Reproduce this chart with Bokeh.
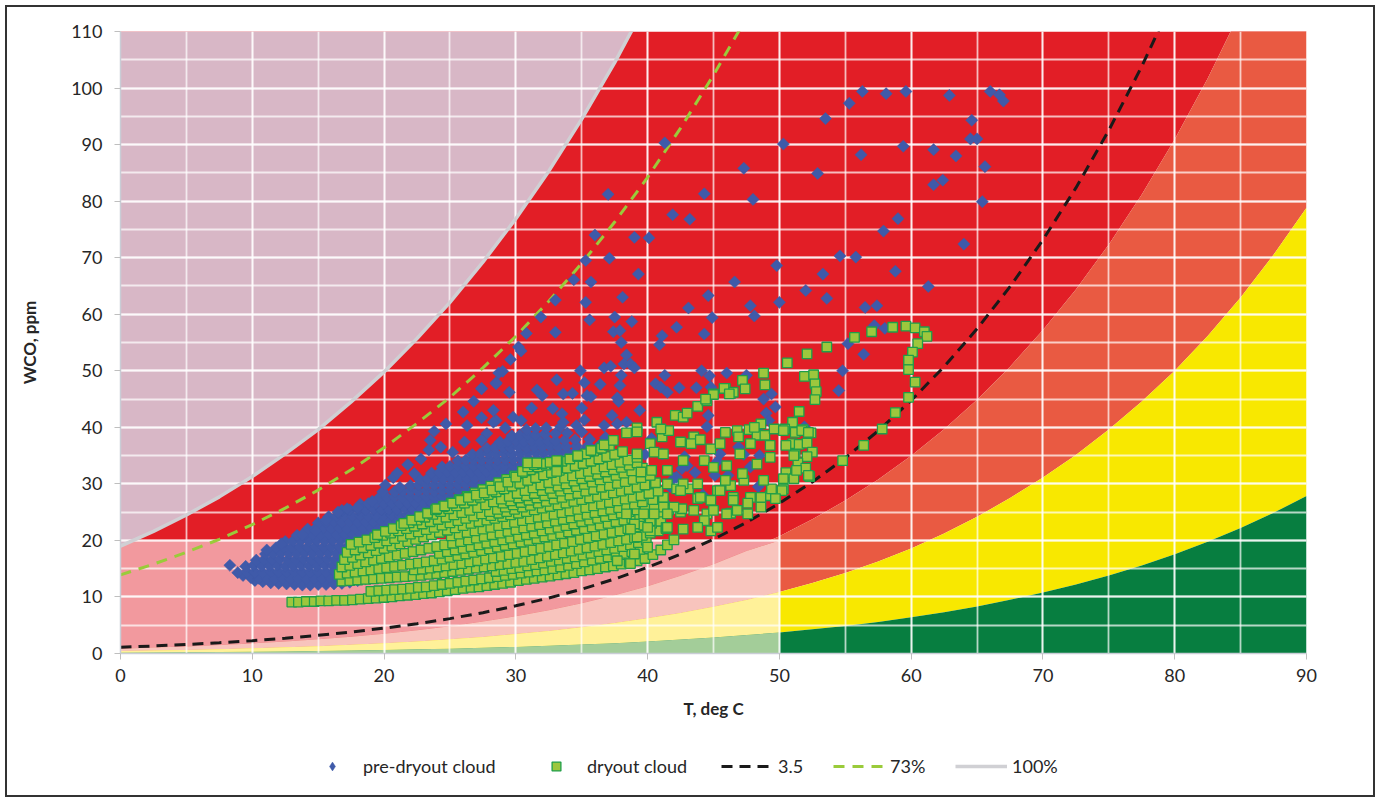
from bokeh.plotting import figure
from bokeh.layouts import column
from bokeh.models import Range1d, SingleIntervalTicker, Legend, LegendItem
from bokeh.embed import file_html
from bokeh.resources import INLINE

# ---------------------------------------------------------------- curves
# temperature grid (deg C) used by every boundary curve
temp_grid = [0, 2.5, 5, 7.5, 10, 12.5, 15, 17.5, 20, 22.5, 25, 27.5, 30, 32.5, 35,
             37.5, 40, 42.5, 45, 47.5, 50, 52.5, 55, 57.5, 60, 62.5, 65, 67.5, 70,
             72.5, 75, 77.5, 80, 82.5, 85, 87.5, 90]

# lower edge of the red zone (ppm)
red_zone_floor = [0.86, 1.04, 1.24, 1.49, 1.78, 2.12, 2.51, 2.97, 3.50, 4.12, 4.83, 5.65,
                  6.59, 7.67, 8.90, 10.31, 11.91, 13.73, 15.79, 18.12, 20.75, 23.72,
                  27.05, 30.79, 34.98, 39.66, 44.89, 50.72, 57.19, 64.38, 72.35, 81.18,
                  90.93, 101.7, 113.6, 126.6, 140.9]
# lower edge of the orange zone (ppm)
orange_zone_floor = [0.44, 0.53, 0.64, 0.77, 0.92, 1.09, 1.30, 1.54, 1.82, 2.14, 2.51,
                     2.94, 3.43, 3.99, 4.65, 5.38, 6.22, 7.18, 8.26, 9.48, 10.86, 12.47,
                     14.25, 16.29, 18.59, 21.22, 24.17, 27.48, 31.12, 35.11, 39.62, 44.55,
                     50.01, 56.17, 62.98, 70.52, 78.83]
# lower edge of the yellow zone (ppm)
yellow_zone_floor = [0.15, 0.18, 0.22, 0.26, 0.31, 0.37, 0.44, 0.53, 0.62, 0.73, 0.86,
                     1.01, 1.17, 1.36, 1.58, 1.83, 2.13, 2.46, 2.83, 3.25, 3.72, 4.28,
                     4.88, 5.59, 6.39, 7.29, 8.30, 9.50, 10.77, 12.20, 13.80, 15.57,
                     17.55, 19.75, 22.18, 24.88, 27.86]

# water solubility in oil, 100 % and 73 % relative saturation (ppm)
saturation_100 = [19.0, 21.6, 24.5, 27.7, 31.3, 35.3, 39.6, 44.5, 49.8, 55.7, 62.1,
                  69.2, 76.9, 85.3, 94.5, 104.5, 115.4]
saturation_73 = [13.9, 15.8, 17.9, 20.2, 22.8, 25.7, 28.9, 32.5, 36.4, 40.7, 45.3, 50.5,
                 56.1, 62.3, 69.0, 76.3, 84.2, 92.9, 102.3, 112.4]
# equilibrium curve labelled 3.5 (ppm)
curve_3_5 = [1.10, 1.33, 1.59, 1.91, 2.27, 2.71, 3.21, 3.80, 4.48, 5.27, 6.17, 7.22,
             8.43, 9.81, 11.38, 13.18, 15.23, 17.56, 20.20, 23.18, 26.55, 30.34, 34.59,
             39.38, 44.74, 50.73, 57.42, 64.87, 73.16, 82.34, 92.54, 103.83, 116.3]

# pastel window in the lower-left corner
pastel_t_max = 50
pastel_w_max = 20

# ---------------------------------------------------------------- clouds (T, WCO)
pre_dryout_core = [
    (10.2,12.9),(10.8,12.7),(11.4,12.5),(12.0,12.4),(12.6,12.3),(13.2,12.2),(13.8,12.1),(14.4,12.1),(15.0,12.2),(15.6,12.2),(16.2,12.3),(16.8,12.4),(17.4,12.6),(18.0,12.9),(18.6,13.2),
    (9.3,13.8),(9.9,13.4),(10.5,13.3),(11.1,13.3),(11.7,13.2),(12.3,13.3),(12.9,13.2),(13.5,13.3),(14.1,13.2),(14.7,13.3),(15.3,13.3),(15.9,13.4),(16.5,13.3),(17.1,13.5),(17.7,13.6),(18.3,13.8),(18.9,14.0),
    (8.9,14.3),(9.6,14.4),(10.2,14.4),(10.8,14.3),(11.4,14.5),(12.0,14.4),(12.6,14.4),(13.2,14.5),(13.8,14.4),(14.4,14.4),(15.0,14.5),(15.6,14.4),(16.2,14.5),(16.8,14.5),(17.4,14.6),(18.0,14.7),(18.6,14.8),
    (9.5,15.4),(10.1,15.6),(10.7,15.5),(11.3,15.5),(11.9,15.6),(12.5,15.4),(13.1,15.5),(13.7,15.6),(14.3,15.5),(14.9,15.5),(15.5,15.6),(16.1,15.5),(16.7,15.6),(17.3,15.6),(17.9,15.7),(18.5,15.8),
    (10.3,16.5),(10.9,16.6),(11.5,16.6),(12.1,16.7),(12.7,16.6),(13.3,16.6),(13.9,16.7),(14.5,16.6),(15.1,16.7),(15.7,16.7),(16.3,16.6),(16.9,16.7),(17.5,16.8),(18.1,16.8),(18.7,16.9),
    (11.0,17.6),(11.6,17.7),(12.2,17.8),(12.8,17.7),(13.4,17.7),(14.0,17.8),(14.6,17.7),(15.2,17.8),(15.8,17.8),(16.4,17.7),(17.0,17.8),(17.6,17.9),(18.2,17.9),(18.8,18.0),(19.4,18.1),
    (11.8,18.7),(12.4,18.8),(13.0,18.8),(13.6,18.9),(14.2,18.8),(14.8,18.9),(15.4,18.8),(16.0,18.9),(16.6,18.9),(17.2,18.9),(17.8,19.0),(18.4,19.0),(19.0,19.1),(19.6,19.1),(20.2,19.2),
    (12.5,19.8),(13.1,19.9),(13.7,20.0),(14.3,19.9),(14.9,20.0),(15.5,19.9),(16.1,20.0),(16.7,20.0),(17.3,20.1),(17.9,20.0),(18.5,20.1),(19.1,20.1),(19.7,20.2),(20.3,20.2),(20.9,20.3),
    (13.4,20.9),(14.0,21.0),(14.6,21.1),(15.2,21.0),(15.8,21.1),(16.4,21.0),(17.0,21.1),(17.6,21.1),(18.2,21.2),(18.8,21.1),(19.4,21.2),(20.0,21.2),(20.6,21.3),(21.2,21.3),(21.8,21.4),
    (14.2,22.0),(14.8,22.1),(15.4,22.2),(16.0,22.1),(16.6,22.2),(17.2,22.1),(17.8,22.2),(18.4,22.2),(19.0,22.3),(19.6,22.2),(20.2,22.3),(20.8,22.3),(21.4,22.4),(22.0,22.4),(22.6,22.5),(23.2,22.6),
    (15.0,23.1),(15.6,23.2),(16.2,23.3),(16.8,23.2),(17.4,23.3),(18.0,23.2),(18.6,23.3),(19.2,23.3),(19.8,23.4),(20.4,23.3),(21.0,23.4),(21.6,23.4),(22.2,23.5),(22.8,23.5),(23.4,23.6),(24.0,23.7),
    (15.8,24.2),(16.4,24.3),(17.0,24.4),(17.6,24.3),(18.2,24.4),(18.8,24.3),(19.4,24.4),(20.0,24.4),(20.6,24.5),(21.2,24.4),(21.8,24.5),(22.4,24.5),(23.0,24.6),(23.6,24.6),(24.2,24.7),(24.8,24.8),
    (16.8,25.3),(17.4,25.4),(18.0,25.5),(18.6,25.4),(19.2,25.5),(19.8,25.4),(20.4,25.5),(21.0,25.5),(21.6,25.6),(22.2,25.5),(22.8,25.6),(23.4,25.6),(24.0,25.7),(24.6,25.7),(25.2,25.8),(25.8,25.8),(26.4,25.9),
    (18.2,26.4),(18.8,26.5),(19.4,26.6),(20.0,26.5),(20.6,26.6),(21.2,26.5),(21.8,26.6),(22.4,26.6),(23.0,26.7),(23.6,26.6),(24.2,26.7),(24.8,26.7),(25.4,26.8),(26.0,26.8),(26.6,26.9),(27.2,27.0),
    (19.6,27.5),(20.2,27.6),(20.8,27.7),(21.4,27.6),(22.0,27.7),(22.6,27.6),(23.2,27.7),(23.8,27.7),(24.4,27.8),(25.0,27.7),(25.6,27.8),(26.2,27.8),(26.8,27.9),(27.4,27.9),(28.0,28.0),
    (20.8,28.6),(21.4,28.7),(22.0,28.8),(22.6,28.7),(23.2,28.8),(23.8,28.7),(24.4,28.8),(25.0,28.8),(25.6,28.9),(26.2,28.8),(26.8,28.9),(27.4,28.9),(28.0,29.0),(28.6,29.0),(29.2,29.1),
    (22.0,29.7),(22.6,29.8),(23.2,29.9),(23.8,29.8),(24.4,29.9),(25.0,29.8),(25.6,29.9),(26.2,29.9),(26.8,30.0),(27.4,29.9),(28.0,30.0),(28.6,30.0),(29.2,30.1),(29.8,30.1),(30.4,30.2),
    (22.7,30.8),(23.3,30.9),(23.9,31.0),(24.5,30.9),(25.1,31.0),(25.7,30.9),(26.3,31.0),(26.9,31.0),(27.5,31.1),(28.1,31.0),(28.7,31.1),(29.3,31.1),(29.9,31.2),(30.5,31.2),(31.1,31.3),
    (23.6,31.9),(24.2,32.0),(24.8,32.1),(25.4,32.0),(26.0,32.1),(26.6,32.0),(27.2,32.1),(27.8,32.1),(28.4,32.2),(29.0,32.1),(29.6,32.2),(30.2,32.2),(30.8,32.3),(31.4,32.3),(32.0,32.4),(32.6,32.4),
    (24.4,33.0),(25.0,33.1),(25.6,33.2),(26.2,33.1),(26.8,33.2),(27.4,33.1),(28.0,33.2),(28.6,33.2),(29.2,33.3),(29.8,33.2),(30.4,33.3),(31.0,33.3),(31.6,33.4),(32.2,33.4),(32.8,33.5),(33.4,33.5),
    (25.6,34.1),(26.2,34.2),(26.8,34.3),(27.4,34.2),(28.0,34.3),(28.6,34.2),(29.2,34.3),(29.8,34.3),(30.4,34.4),(31.0,34.3),(31.6,34.4),(32.2,34.4),(32.8,34.5),(33.4,34.5),(34.0,34.6),(34.6,34.6),
    (26.7,35.2),(27.3,35.3),(27.9,35.4),(28.5,35.3),(29.1,35.4),(29.7,35.3),(30.3,35.4),(30.9,35.4),(31.5,35.5),(32.1,35.4),(32.7,35.5),(33.3,35.5),(33.9,35.6),(34.5,35.6),(35.1,35.7),(35.9,35.8),
    (27.8,36.3),(28.4,36.4),(29.0,36.5),(29.6,36.4),(30.2,36.5),(30.8,36.4),(31.4,36.5),(32.0,36.5),(32.6,36.6),(33.2,36.5),(33.8,36.6),(34.6,36.7),(35.5,36.8),(36.4,36.9),(37.2,37.1),
    (28.8,37.4),(29.4,37.5),(30.0,37.6),(30.6,37.5),(31.2,37.6),(31.8,37.5),(32.4,37.6),(33.0,37.6),(33.7,37.7),(34.5,37.8),(35.6,37.9),(36.8,38.2),
    (29.7,38.5),(30.3,38.6),(30.9,38.7),(31.5,38.6),(32.2,38.8),(33.0,38.9),(33.9,39.0),(35.0,39.2),
    (30.8,39.6),(31.5,39.8),(32.3,39.9),(33.4,40.1),(34.6,40.3),
]

pre_dryout_scattered = [
    (8.3,15.6),(11.1,18.3),(12.2,19.4),(13.8,21.0),(14.8,21.7),(15.6,23.6),(16.5,25.0),(17.2,25.6),
    (18.0,25.8),(19.1,26.9),(19.9,28.6),(20.1,29.8),(20.7,31.1),(21.2,29.4),(21.0,31.9),(21.8,33.4),
    (22.3,31.8),(22.8,34.4),(23.4,36.0),(23.5,37.7),(24.3,36.5),(23.8,39.3),(24.7,40.6),(25.2,35.6),
    (26.1,37.4),(26.0,42.7),(26.3,40.3),(26.8,44.6),(27.4,46.8),(27.4,41.7),(27.8,38.9),(27.4,37.7),
    (28.5,47.9),(28.7,49.6),(28.5,41.2),(28.3,43.0),(29.2,39.9),(30.4,41.2),
    (28.5,17.5),(30.2,19.0),(31.5,21.5),(32.8,18.6),(33.6,23.4),(34.5,20.2),(35.3,25.8),(35.9,22.5),
    (36.6,19.1),(37.2,27.0),(37.8,24.3),(38.3,21.0),(39.0,29.0),(39.6,26.2),(40.1,23.0),(40.8,28.3),
    (41.3,26.7),(42.0,31.0),(42.8,34.8),(43.6,32.0),(44.2,28.0),(45.3,34.0),(46.1,31.5),(46.9,36.5),
    (47.8,33.0),(48.4,29.5),(29.5,24.8),(31.0,27.5),(32.3,29.8),(33.9,31.0),(34.9,28.2),(36.2,30.5),
    (38.6,32.6),(39.8,35.2),
    (56.3,99.4),(58.1,99.0),(59.6,99.4),(62.9,98.7),(55.3,97.3),(53.5,94.6),(64.6,94.3),(64.5,91.0),
    (65.0,91.0),(50.3,90.1),(41.3,90.3),(59.4,89.7),(61.7,89.1),(56.2,88.2),(63.4,88.0),(47.3,85.8),
    (52.9,84.9),(62.4,83.7),(61.7,82.9),(37.0,81.2),(44.3,81.3),(48.0,80.3),(41.9,77.6),(43.2,76.8),
    (59.0,76.9),(57.9,74.7),(64.0,72.4),(36.0,74.0),(39.0,73.6),(40.1,73.5),(37.1,69.9),(35.3,69.5),
    (54.6,70.3),(55.8,70.1),(49.8,68.6),(39.3,67.1),(53.3,67.1),(58.8,67.6),(34.4,66.1),(35.7,65.7),
    (46.6,65.7),(61.3,64.9),(44.6,63.3),(38.1,63.0),(52.0,64.2),(53.6,62.8),(33.0,62.5),(35.3,62.1),
    (43.1,61.1),(47.8,61.5),(50.0,62.1),(56.5,61.2),(57.4,61.5),(31.9,59.5),(35.6,59.0),(37.5,59.5),
    (38.8,58.7),(44.9,59.4),(48.1,59.7),(33.0,56.8),(30.8,56.6),(37.4,56.9),(37.9,57.1),(42.2,57.7),
    (44.3,56.5),(41.1,56.2),(30.2,54.2),(30.4,53.5),(40.9,54.6),(55.2,54.8),(56.4,52.9),(29.6,52.0),
    (38.0,55.0),(38.4,52.8),(38.2,51.2),(38.7,51.2),(39.0,50.5),(36.7,50.5),(37.2,50.8),(38.0,49.2),
    (37.9,47.4),(34.9,50.0),(29.0,49.9),(33.1,48.4),(35.2,47.9),(36.4,47.6),(41.3,49.2),(40.6,47.7),
    (41.0,47.1),(41.5,46.2),(44.1,50.0),(44.7,49.1),(46.0,49.6),(47.5,49.2),(42.4,47.0),(43.7,47.0),
    (44.8,47.1),(54.8,50.0),(54.5,46.5),(49.4,45.9),(31.6,46.6),(32.0,45.6),(29.5,46.2),(33.6,45.9),
    (34.3,46.0),(35.4,45.6),(35.7,45.4),(37.7,45.2),(66.0,99.4),(66.7,98.8),(67.0,97.7),(65.6,86.1),
    (65.4,79.9),(57.2,58.0),(58.0,57.5),(27.4,46.9),(28.5,47.7),(37.8,44.6),(39.4,43.0),(31.2,43.4),
    (32.8,43.3),(35.0,43.4),(33.5,42.4),(37.3,42.1),(44.6,42.1),(36.7,40.3),(37.7,40.6),(38.4,40.9),
    (33.6,40.9),(29.8,41.8),(28.3,40.9),(35.2,41.3),(48.8,45.0),(49.0,42.5),(49.7,43.6),(49.2,41.2),
    (51.9,40.1),(48.3,39.7),(44.5,40.1),(45.5,35.3),(47.3,35.2),(48.5,35.0),(41.1,35.3),(40.3,38.0),
    (43.0,33.2),(42.6,32.7),(42.2,31.2),(41.7,29.5),(42.2,28.9),(45.1,31.5),(40.2,30.6),
]

dryout_streaks = [
    (13.0,9.1),(13.5,9.1),(14.1,9.2),(14.7,9.2),(15.2,9.3),(15.8,9.3),(16.4,9.4),(17.0,9.4),(17.6,9.5),(18.2,9.6),(18.8,9.7),(19.4,9.8),(20.0,9.9),(20.6,10.0),(21.2,10.2),(21.8,10.3),(22.4,10.4),(23.0,10.6),(23.6,10.7),(24.2,10.9),(24.8,11.1),(25.4,11.3),(26.0,11.5),(26.6,11.7),(27.2,11.8),(27.8,12.0),(28.4,12.2),(29.0,12.4),(29.6,12.6),(30.2,12.9),(30.8,13.1),(31.4,13.3),(32.0,13.5),(32.6,13.7),(33.2,13.9),(33.8,14.1),(34.4,14.3),(35.0,14.6),(35.6,14.8),(36.2,15.0),(36.8,15.3),(37.4,15.5),(38.0,15.8),(38.6,16.1),(39.2,16.4),(39.8,16.8),(40.4,17.5),(41.0,18.3),(41.5,19.2),(42.0,20.1),
    (19.0,11.0),(19.6,11.1),(20.2,11.2),(20.8,11.3),(21.4,11.4),(22.0,11.5),(22.6,11.7),(23.2,11.8),(23.8,12.0),(24.4,12.2),(25.0,12.4),(25.6,12.6),(26.2,12.8),(26.8,13.0),(27.4,13.2),(28.0,13.4),(28.6,13.6),(29.2,13.8),(29.8,14.0),(30.4,14.2),(31.0,14.4),(31.6,14.6),(32.2,14.8),(32.8,15.0),(33.4,15.3),(34.0,15.6),(34.6,15.9),(35.2,16.2),(35.8,16.5),(36.4,16.8),(37.0,17.1),(37.6,17.4),(38.2,17.7),(38.8,18.0),(39.4,18.4),(40.0,18.8),
    (28.5,14.5),(29.1,14.7),(29.7,15.0),(30.3,15.2),(30.9,15.5),(31.5,15.7),(32.1,16.0),(32.7,16.3),(33.3,16.5),(33.9,16.8),(34.5,17.1),(35.1,17.4),(35.7,17.7),(36.3,18.0),(36.9,18.3),(37.5,18.6),(38.1,18.9),(38.7,19.2),(39.3,19.6),(39.9,20.0),
    (16.8,12.8),(17.4,12.9),(18.0,13.0),(18.6,13.1),(19.2,13.2),(19.8,13.3),(20.4,13.4),(21.0,13.5),(21.6,13.6),(22.2,13.7),(22.8,13.8),(23.4,14.0),(24.0,14.1),(24.6,14.3),(25.2,14.5),(25.8,14.7),(26.4,14.9),(27.0,15.1),(27.6,15.3),(28.2,15.5),(28.8,15.7),(29.4,15.9),(30.0,16.1),(30.6,16.3),(31.2,16.6),(31.8,16.9),(32.4,17.2),(33.0,17.5),(33.6,17.8),(34.2,18.1),(34.8,18.4),(35.4,18.7),(36.0,19.0),(36.6,19.3),(37.2,19.6),(37.8,19.9),(38.4,20.2),(39.0,20.5),(39.6,20.9),(40.2,21.3),(40.8,21.7),(41.4,22.1),
    (22.3,14.8),(22.9,14.9),(23.5,15.1),(24.1,15.3),(24.7,15.5),(25.3,15.7),(25.9,15.9),(26.5,16.2),(27.1,16.4),(27.7,16.7),(28.3,16.9),(28.9,17.2),(29.5,17.5),(30.1,17.7),(30.7,18.0),(31.3,18.3),(31.9,18.6),(32.5,18.9),(33.1,19.2),(33.7,19.5),(34.3,19.8),(34.9,20.2),(35.5,20.5),(36.1,20.8),(36.7,21.1),(37.3,21.4),(37.9,21.7),(38.5,22.1),(39.1,22.4),(39.7,22.7),(40.3,23.0),(41.0,23.4),
    (16.6,14.0),(17.2,14.2),(17.8,14.4),(18.4,14.6),(19.0,14.8),(19.6,15.0),(20.2,15.2),(20.8,15.4),(21.4,15.6),(22.0,15.8),(22.6,16.0),(23.2,16.2),(23.8,16.4),(24.4,16.7),(25.0,17.0),(25.6,17.3),(26.2,17.6),(26.8,17.9),(27.4,18.2),(28.0,18.5),(28.6,18.8),(29.2,19.1),(29.8,19.4),(30.4,19.7),(31.0,20.0),(31.6,20.3),(32.2,20.6),(32.8,20.9),(33.4,21.2),(34.0,21.5),(34.6,21.8),(35.2,22.1),(35.8,22.4),(36.4,22.7),(37.0,23.0),(37.6,23.3),(38.2,23.6),(38.8,23.9),(39.4,24.2),(40.0,24.6),(40.8,25.0),(41.6,25.4),
    (24.2,17.7),(24.8,18.0),(25.4,18.3),(26.0,18.6),(26.6,18.9),(27.2,19.2),(27.8,19.5),(28.4,19.8),(29.0,20.1),(29.6,20.4),(30.2,20.7),(30.8,21.0),(31.4,21.3),(32.0,21.7),(32.6,22.0),(33.2,22.3),(33.8,22.6),(34.4,22.9),(35.0,23.3),(35.6,23.6),(36.2,23.9),(36.8,24.2),(37.4,24.5),(38.0,24.8),(38.6,25.1),(39.2,25.4),(39.8,25.7),(40.5,26.0),
    (16.8,15.3),(17.4,15.6),(18.0,15.9),(18.6,16.2),(19.2,16.5),(19.8,16.8),(20.4,17.1),(21.0,17.4),(21.6,17.7),(22.2,18.0),(22.8,18.3),(23.4,18.6),(24.0,18.9),(24.6,19.2),(25.2,19.5),(25.8,19.8),(26.4,20.1),(27.0,20.4),(27.6,20.7),(28.2,21.0),(28.8,21.3),(29.4,21.6),(30.0,21.9),(30.6,22.2),(31.2,22.5),(31.8,22.8),(32.4,23.1),(33.0,23.4),(33.6,23.7),(34.2,24.0),(34.8,24.3),(35.4,24.6),(36.0,24.9),(36.6,25.2),(37.2,25.5),(37.8,25.8),(38.4,26.1),(39.0,26.4),(39.6,26.8),(40.4,27.2),(41.2,27.6),
    (25.1,20.8),(25.7,21.1),(26.3,21.4),(26.9,21.7),(27.5,22.0),(28.1,22.3),(28.7,22.6),(29.3,22.9),(29.9,23.2),(30.5,23.5),(31.1,23.8),(31.7,24.1),(32.3,24.3),(32.9,24.6),(33.5,24.9),(34.1,25.2),(34.7,25.5),(35.3,25.8),(35.9,26.1),(36.5,26.4),(37.1,26.7),(37.7,27.0),(38.3,27.3),(38.9,27.6),(39.5,27.9),(40.1,28.3),(40.8,28.7),
    (17.0,16.6),(17.6,17.0),(18.2,17.4),(18.8,17.8),(19.4,18.2),(20.0,18.6),(20.6,19.0),(21.2,19.4),(21.8,19.8),(22.4,20.2),(23.0,20.6),(23.6,21.0),(24.2,21.4),(24.8,21.8),(25.4,22.2),(26.0,22.6),(26.6,23.0),(27.2,23.3),(27.8,23.6),(28.4,23.9),(29.0,24.2),(29.6,24.5),(30.2,24.8),(30.8,25.1),(31.4,25.4),(32.0,25.7),(32.6,26.0),(33.2,26.3),(33.8,26.6),(34.4,26.9),(35.0,27.2),(35.6,27.5),(36.2,27.8),(36.8,28.1),(37.4,28.4),(38.0,28.7),(38.6,29.0),(39.2,29.4),(39.8,29.8),(40.6,30.2),
    (28.1,24.4),(28.7,24.8),(29.3,25.1),(29.9,25.5),(30.5,25.9),(31.1,26.2),(31.7,26.6),(32.3,26.9),(32.9,27.3),(33.5,27.6),(34.1,28.0),(34.7,28.3),(35.3,28.7),(35.9,29.0),(36.5,29.4),(37.1,29.7),(37.7,30.1),(38.3,30.4),(38.9,30.8),(39.5,31.1),(40.2,31.5),
    (17.2,17.9),(17.8,18.3),(18.4,18.7),(19.0,19.1),(19.6,19.5),(20.2,19.9),(20.8,20.3),(21.4,20.7),(22.0,21.1),(22.6,21.5),(23.2,21.9),(23.8,22.3),(24.4,22.7),(25.0,23.1),(25.6,23.5),(26.2,23.9),(26.8,24.3),(27.4,24.7),(28.0,25.1),(28.6,25.5),(29.2,25.9),(29.8,26.3),(30.4,26.7),(31.0,27.1),(31.6,27.5),(32.2,27.9),(32.8,28.3),(33.4,28.7),(34.0,29.1),(34.6,29.5),(35.2,29.9),(35.8,30.3),(36.4,30.7),(37.0,31.1),(37.6,31.5),(38.2,31.9),(38.8,32.3),(39.6,32.8),
    (29.0,26.6),(29.6,27.0),(30.2,27.5),(30.8,27.9),(31.4,28.3),(32.0,28.8),(32.6,29.2),(33.2,29.6),(33.8,30.0),(34.4,30.5),(35.0,30.9),(35.6,31.3),(36.2,31.7),(36.8,32.1),(37.4,32.5),(38.0,32.9),(38.6,33.3),(39.2,33.7),
    (17.5,19.3),(18.1,19.7),(18.7,20.1),(19.3,20.5),(19.9,20.9),(20.5,21.3),(21.1,21.7),(21.7,22.1),(22.3,22.5),(22.9,22.9),(23.5,23.3),(24.1,23.7),(24.7,24.1),(25.3,24.5),(25.9,24.9),(26.5,25.3),(27.1,25.8),(27.7,26.3),(28.3,26.8),(28.9,27.3),(29.5,27.8),(30.1,28.3),(30.7,28.8),(31.3,29.3),(31.9,29.8),(32.5,30.2),(33.1,30.6),(33.7,31.0),(34.3,31.4),(34.9,31.8),(35.5,32.2),(36.1,32.6),(36.7,33.0),(37.3,33.4),(37.9,33.8),(38.5,34.2),(39.2,34.7),
    (19.5,21.0),(20.1,21.6),(20.7,22.1),(21.3,22.6),(21.9,23.1),(22.5,23.6),(23.1,24.1),(23.7,24.6),(24.3,25.1),(24.9,25.6),(25.5,26.1),(26.1,26.6),(26.7,27.1),(27.3,27.6),(27.9,28.1),(28.5,28.6),(29.1,29.1),(29.7,29.6),(30.3,30.1),(30.9,30.6),(31.5,31.1),(32.1,31.6),(32.7,32.0),(33.3,32.4),(33.9,32.8),(34.5,33.2),(35.1,33.6),(35.7,34.0),(36.3,34.4),(36.9,34.8),(37.5,35.2),(38.1,35.7),
    (21.5,23.0),(22.1,23.6),(22.7,24.2),(23.3,24.8),(23.9,25.4),(24.5,26.0),(25.1,26.6),(25.7,27.2),(26.3,27.8),(26.9,28.4),(27.5,29.0),(28.1,29.6),(28.7,30.2),(29.3,30.8),(29.9,31.4),(30.5,32.0),(31.1,32.5),(31.7,33.0),(32.3,33.3),(32.9,33.6),(33.5,34.0),(34.1,34.4),(34.7,34.8),(35.3,35.3),(35.9,35.8),(36.5,36.3),(37.1,36.8),
    (24.0,25.6),(24.6,26.1),(25.2,26.6),(25.8,27.1),(26.4,27.6),(27.0,28.0),(27.6,28.4),(28.2,28.9),(28.8,29.5),(29.4,30.3),(30.0,31.2),(30.5,32.2),(30.9,33.0),(31.4,33.4),(32.0,33.6),(32.6,33.8),(33.2,34.0),
]

dryout_scattered = [
    (30.9,33.7),(31.6,33.7),(33.1,34.1),(33.1,32.2),(34.7,35.0),(35.7,35.9),(36.7,36.9),(37.4,37.7),
    (38.4,39.0),(39.2,39.9),(40.7,40.9),(42.1,42.1),(42.7,41.8),(43.0,42.5),(43.8,43.7),(44.5,44.7),
    (45.0,45.9),(45.9,46.9),(46.3,46.0),(47.2,48.3),(47.4,46.8),(48.8,49.6),(48.9,47.5),(50.6,51.4),
    (52.1,53.0),(53.6,54.2),(55.7,55.9),(57.0,56.9),(58.6,57.7),(59.6,57.9),(60.3,57.6),(61.0,56.9),
    (61.2,56.1),(60.5,54.8),(60.1,53.3),(59.8,51.9),(59.8,50.2),(60.3,48.0),(59.8,45.3),(58.8,42.6),
    (57.8,39.7),(56.4,36.8),(54.8,34.1),
    (46.5,46.2),(45.8,46.9),(46.2,45.9),(45.0,45.8),(44.4,45.0),(51.9,49.0),(52.6,49.3),(52.7,47.7),
    (52.8,46.3),(52.7,44.9),(51.5,42.8),(51.0,40.9),(50.4,39.7),(51.8,39.6),(52.4,39.0),(51.0,37.1),
    (51.5,37.0),(52.1,37.2),(52.5,35.6),(51.2,35.2),(52.1,34.8),(51.4,33.7),(52.0,32.8),(50.5,32.0),
    (52.3,31.3),(51.1,30.9),(50.3,29.1),
    (39.2,39.2),(40.2,37.1),(41.1,38.3),(41.6,39.4),(41.0,39.7),(39.2,35.3),(40.5,35.6),(41.2,35.3),
    (40.3,32.4),(39.5,32.1),(41.5,30.0),(42.2,29.1),(43.1,29.1),(42.5,37.4),(43.5,38.3),(43.3,37.1),
    (44.0,37.8),(44.8,36.2),(45.5,37.1),(45.9,39.1),(46.8,39.4),(47.7,39.6),(48.3,38.6),(46.9,38.3),
    (47.8,37.1),(48.9,38.6),(49.6,39.7),(50.3,39.4),(51.2,39.1),(51.7,39.4),(52.2,39.1),(48.6,40.6),
    (48.1,40.0),
    (42.7,30.0),(43.8,27.4),(44.5,24.7),(44.8,21.7),(42.7,22.0),(41.4,22.3),(40.2,21.7),(46.3,24.8),
    (46.5,27.6),(47.6,24.7),(48.6,25.9),(49.3,27.9),(50.3,30.9),(51.3,32.4),(52.2,31.5),(51.1,35.0),
    (47.3,30.6),(46.3,29.7),(45.3,28.8),(46.0,33.2),(47.0,35.3),(48.3,33.5),(49.3,34.7),(44.3,34.1),
    (42.7,34.1),(41.5,32.4),(42.5,25.0),(41.2,25.9),(40.2,23.5),(39.0,22.9),(39.2,20.6),(37.7,16.4),
    (49.3,36.8),(50.5,36.8),(50.2,28.8),(49.4,29.1),(48.8,30.6),(49.7,27.4),(48.6,27.6),(47.8,27.6),
    (47.6,26.6),(46.5,27.1),(46.8,25.3),(46.0,24.7),(45.9,30.6),(47.2,31.8),(45.0,32.9),(45.5,28.8),
    (44.8,27.1),(44.0,27.6),(43.8,30.0),(42.5,28.8),(42.6,25.6),(43.5,25.3),(45.0,25.3),(44.3,23.5),
    (45.3,22.3),(43.8,22.3),(41.5,22.3),(42.0,25.9),(41.5,24.7),(40.5,24.7),(39.7,24.7),(40.0,22.3),
    (38.4,24.7),(38.7,22.0),(40.0,18.8),(39.0,17.6),(38.7,15.9),
]

# axis ticks
x_ticks_step = 10
y_ticks_step = 10

# ---------------------------------------------------------------- colours
RED, ORANGE, YELLOW, GREEN = "#E21E26", "#E95A42", "#F8E800", "#077E40"
RED_PASTEL, ORANGE_PASTEL, YELLOW_PASTEL, GREEN_PASTEL = "#F2999E", "#F8C4BD", "#FFF199", "#A3CD99"
LILAC = "#D8B7C6"
BLUE = "#3F5AA9"
SQ_FILL, SQ_LINE = "#9DC73D", "#1F9E48"
LINE_100, LINE_73, LINE_35 = "#D0D0D4", "#9ACB3A", "#1A1A1A"
FONT = "Lato"
TEXT = "#262626"

# canvas is inset by the 5 px page margin + 2 px frame border
p = figure(width=1366, height=720, x_range=Range1d(0, 90), y_range=Range1d(0, 110),
           output_backend="svg", toolbar_location=None,
           min_border_left=113, min_border_right=67, min_border_top=24, min_border_bottom=74)
p.outline_line_color = None
p.background_fill_color = "white"
p.border_fill_color = "white"

top = [110] * len(temp_grid)
ground = [0] * len(temp_grid)

# coloured zones
for lo, hi, col in [(red_zone_floor, top, RED),
                    (orange_zone_floor, red_zone_floor, ORANGE),
                    (yellow_zone_floor, orange_zone_floor, YELLOW),
                    (ground, yellow_zone_floor, GREEN)]:
    r = p.varea(x=temp_grid, y1=lo, y2=hi, fill_color=col)
    r.level = "image"

# pastel window (T <= 50, WCO <= 20)
n_p = sum(1 for t in temp_grid if t <= pastel_t_max)
tp = temp_grid[:n_p]
def capped(vals):
    return [min(v, pastel_w_max) for v in vals[:n_p]]
cap_top = [pastel_w_max] * n_p
for lo, hi, col in [(capped(red_zone_floor), cap_top, RED_PASTEL),
                    (capped(orange_zone_floor), capped(red_zone_floor), ORANGE_PASTEL),
                    (capped(yellow_zone_floor), capped(orange_zone_floor), YELLOW_PASTEL),
                    (ground[:n_p], capped(yellow_zone_floor), GREEN_PASTEL)]:
    r = p.varea(x=tp, y1=lo, y2=hi, fill_color=col)
    r.level = "image"

# supersaturated region
ts = temp_grid[:len(saturation_100)]
r = p.varea(x=ts, y1=saturation_100, y2=[110] * len(ts), fill_color=LILAC)
r.level = "image"

# grid every 5 units
for ax in (p.xaxis, p.yaxis):
    ax.ticker = SingleIntervalTicker(interval=10, num_minor_ticks=2)
p.xgrid.ticker = SingleIntervalTicker(interval=x_ticks_step, num_minor_ticks=2)
p.ygrid.ticker = SingleIntervalTicker(interval=y_ticks_step, num_minor_ticks=2)
for g in (p.xgrid, p.ygrid):
    g.grid_line_color = "white"
    g.grid_line_alpha = 0.7
    g.grid_line_width = 1.8
    g.minor_grid_line_color = "white"
    g.minor_grid_line_alpha = 0.7
    g.minor_grid_line_width = 1.8

# curves
LINE_STYLES = {
    "100": dict(line_color=LINE_100, line_width=3.5),
    "73": dict(line_color=LINE_73, line_width=3, line_dash="11 8"),
    "3.5": dict(line_color=LINE_35, line_width=3, line_dash="11 7"),
}
p.line(ts, saturation_100, **LINE_STYLES["100"])
p.line(temp_grid[:len(saturation_73)], saturation_73, **LINE_STYLES["73"])
p.line(temp_grid[:len(curve_3_5)], curve_3_5, **LINE_STYLES["3.5"])

# clouds
PRE_STYLE = dict(marker="square", angle=0.785398, size=8.6, fill_color=BLUE,
                 line_color=BLUE, line_width=0.5)
DRY_STYLE = dict(marker="square", size=9.5, fill_color=SQ_FILL, line_color=SQ_LINE,
                 line_width=1.3)
pre_t = [a for a, b in pre_dryout_core + pre_dryout_scattered]
pre_w = [b for a, b in pre_dryout_core + pre_dryout_scattered]
dry_t = [a for a, b in dryout_streaks + dryout_scattered]
dry_w = [b for a, b in dryout_streaks + dryout_scattered]
p.scatter(pre_t, pre_w, **PRE_STYLE)
p.scatter(dry_t, dry_w, **DRY_STYLE)

# axes
for ax in (p.xaxis, p.yaxis):
    ax.axis_line_color = "#C9CDD6"
    ax.axis_line_width = 1.5
    ax.major_tick_line_color = "#BFBFBF"
    ax.major_tick_out = 6
    ax.major_tick_in = 0
    ax.minor_tick_line_color = None
    ax.major_label_text_font = FONT
    ax.major_label_text_font_size = "18px"
    ax.major_label_text_color = TEXT
    ax.axis_label_text_font = FONT
    ax.axis_label_text_font_size = "17px"
    ax.axis_label_text_font_style = "bold"
    ax.axis_label_text_color = TEXT
p.xaxis.axis_label = "T, deg C"
p.yaxis.axis_label = "WCO, ppm"
p.xaxis.major_label_standoff = 9
p.yaxis.major_label_standoff = 12
p.xaxis.axis_label_standoff = 13
p.yaxis.axis_label_standoff = 28

# legend strip under the chart; its plotting area lines up with the chart's,
# and its view window is placed away from the series so only the keys show
lf = figure(width=1366, height=68, x_range=Range1d(-200, -199), y_range=Range1d(-200, -199),
            output_backend="svg", toolbar_location=None, min_border=0,
            x_axis_location=None, y_axis_location=None)
lf.grid.visible = False
lf.outline_line_color = None
lf.background_fill_color = "white"
lf.border_fill_color = "white"
key_pre = lf.scatter(pre_t, pre_w, marker="diamond", size=11, fill_color=BLUE,
                     line_color=BLUE, line_width=0.5)
key_dry = lf.scatter(dry_t, dry_w, **DRY_STYLE)
key_35 = lf.line(temp_grid[:len(curve_3_5)], curve_3_5, **LINE_STYLES["3.5"])
key_73 = lf.line(temp_grid[:len(saturation_73)], saturation_73, **LINE_STYLES["73"])
key_100 = lf.line(ts, saturation_100, **LINE_STYLES["100"])

entries = [("pre-dryout cloud", key_pre, 186), ("dryout cloud", key_dry, 410),
           ("3.5", key_35, 601), ("73%", key_73, 713), ("100%", key_100, 835)]
for label, rend, xoff in entries:
    lf.add_layout(Legend(items=[LegendItem(label=label, renderers=[rend])],
                         location=(xoff, 18), orientation="horizontal",
                         glyph_width=52, glyph_height=22, label_height=22,
                         label_standoff=5, padding=0, margin=0, spacing=0,
                         background_fill_alpha=0, border_line_alpha=0,
                         label_text_font=FONT, label_text_font_size="18px",
                         label_text_color=TEXT))

page = column(p, lf, spacing=0, margin=(5, 0, 0, 5), styles={"border": "2px solid #333333"})

open("out.html", "w").write(file_html(page, INLINE))
